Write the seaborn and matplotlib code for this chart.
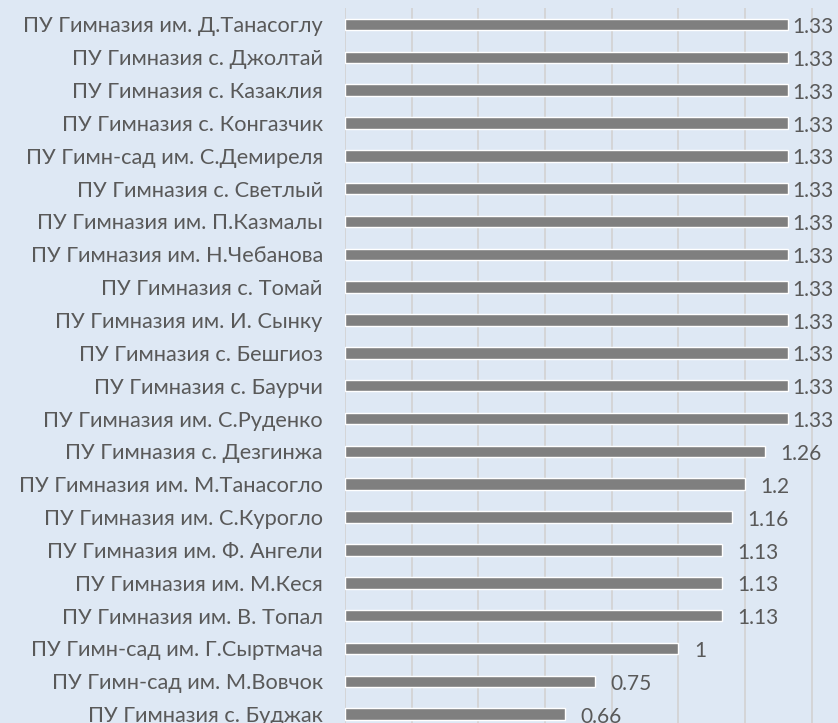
import numpy as np
import pandas as pd
import matplotlib.pyplot as plt
import seaborn as sns

schools = [
    "ПУ Гимназия им. Д.Танасоглу",
    "ПУ Гимназия с. Джолтай",
    "ПУ Гимназия с. Казаклия",
    "ПУ Гимназия с. Конгазчик",
    "ПУ Гимн-сад им. С.Демиреля",
    "ПУ Гимназия с. Светлый",
    "ПУ Гимназия им. П.Казмалы",
    "ПУ Гимназия им. Н.Чебанова",
    "ПУ Гимназия с. Томай",
    "ПУ Гимназия им. И. Сынку",
    "ПУ Гимназия с. Бешгиоз",
    "ПУ Гимназия с. Баурчи",
    "ПУ Гимназия им. С.Руденко",
    "ПУ Гимназия с. Дезгинжа",
    "ПУ Гимназия им. М.Танасогло",
    "ПУ Гимназия им. С.Курогло",
    "ПУ Гимназия им. Ф. Ангели",
    "ПУ Гимназия им. М.Кеся",
    "ПУ Гимназия им. В. Топал",
    "ПУ Гимн-сад им. Г.Сыртмача",
    "ПУ Гимн-сад им. М.Вовчок",
    "ПУ Гимназия с. Буджак",
]
scores = [1.33, 1.33, 1.33, 1.33, 1.33, 1.33, 1.33, 1.33, 1.33, 1.33, 1.33,
          1.33, 1.33, 1.26, 1.2, 1.16, 1.13, 1.13, 1.13, 1, 0.75, 0.66]
score_labels = ["1.33"] * 13 + ["1.26", "1.2", "1.16", "1.13", "1.13", "1.13", "1", "0.75", "0.66"]

bg = "#dee8f4"
txt = "#595959"

sns.set_style("white")
plt.rcParams["font.family"] = ["Lato", "DejaVu Sans"]

df = pd.DataFrame({"school": schools, "score": scores})

fig = plt.figure(figsize=(8.38, 7.23), dpi=100, facecolor=bg)
ax = fig.add_axes([345 / 838, 0.0, 1 - 345 / 838, 1 - 8 / 723])
ax.set_facecolor(bg)

sns.barplot(data=df, y="school", x="score", orient="h", color="#7f7f7f",
            width=0.35, saturation=1, ax=ax, zorder=3)

ax.set_xlim(0, 1.479)
ax.set_ylim(21.27, -0.5)
ax.set_xticks(np.arange(0, 1.41, 0.2))
ax.xaxis.grid(True, color="#d4d4d4", linewidth=1.3, zorder=0)
ax.set_axisbelow(True)
ax.tick_params(axis="x", length=0, labelbottom=False)
ax.tick_params(axis="y", length=0, pad=16, labelsize=15.7, labelcolor=txt)
ax.set_xlabel("")
ax.set_ylabel("")
for s in ax.spines.values():
    s.set_visible(False)

# value labels, pushed back inside when there is no room on the right
for i, (v, lab) in enumerate(zip(scores, score_labels)):
    x = min(v + 0.047, 1.342)
    ax.text(x, i + 0.08, lab, va="center", ha="left", fontsize=15, color=txt)

fig.savefig("out.png", dpi=100, facecolor=bg)
